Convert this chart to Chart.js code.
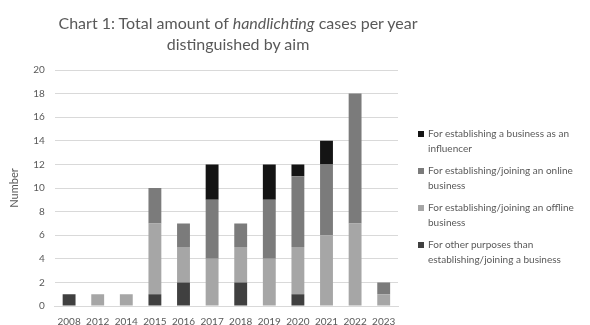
<!DOCTYPE html>
<html>
<head>
<meta charset="utf-8">
<script src="https://cdn.jsdelivr.net/npm/chart.js@4"></script>
<style>
  body { margin: 0; background: #fff; }
  #wrap { position: relative; width: 590px; height: 325px; font-family: Lato, "Open Sans", sans-serif; }
  #title { position: absolute; left: 0; width: 476px; top: 12px; text-align: center; color: #595959; font-size: 16px; line-height: 21px; }
  #legend { position: absolute; left: 418px; top: 126px; width: 172px; color: #595959; font-size: 10px; line-height: 15px; }
  .item { position: relative; padding-left: 10px; margin-bottom: 7px; }
  .item span { position: absolute; left: 0; top: 5px; width: 6px; height: 6px; }
</style>
</head>
<body>
<div id="wrap">
  <canvas id="chart" width="590" height="325"></canvas>
  <div id="title">Chart 1: Total amount of <i>handlichting</i> cases per year<br>distinguished by aim</div>
  <div id="legend"></div>
</div>
<script>
// years on the x axis
var years = ["2008", "2012", "2014", "2015", "2016", "2017", "2018", "2019", "2020", "2021", "2022", "2023"];

// cases per year, one array per aim (stacked bottom to top)
var otherPurposes = [1, 0, 0, 1, 2, 0, 2, 0, 1, 0, 0, 0];
var offlineBusiness = [0, 1, 1, 6, 3, 4, 3, 4, 4, 6, 7, 1];
var onlineBusiness = [0, 0, 0, 3, 2, 5, 2, 5, 6, 6, 11, 1];
var influencer = [0, 0, 0, 0, 0, 3, 0, 3, 1, 2, 0, 0];

var yTicks = [0, 2, 4, 6, 8, 10, 12, 14, 16, 18, 20];

// datasets in legend order (top of stack first)
var series = [
  { label: "For establishing a business as an influencer", data: influencer, color: "#141414" },
  { label: "For establishing/joining an online business", data: onlineBusiness, color: "#7b7b7b" },
  { label: "For establishing/joining an offline business", data: offlineBusiness, color: "#a6a6a6" },
  { label: "For other purposes than establishing/joining a business", data: otherPurposes, color: "#404040" }
];

// build the html legend so labels can wrap like the original
var legend = document.getElementById("legend");
series.forEach(function (s) {
  var div = document.createElement("div");
  div.className = "item";
  div.innerHTML = '<span style="background:' + s.color + '"></span>' + s.label;
  legend.appendChild(div);
});

var ctx = document.getElementById("chart").getContext("2d");
var myChart = new Chart(ctx, {
  type: "bar",
  data: {
    labels: years,
    datasets: series.slice().reverse().map(function (s) {
      return {
        label: s.label,
        data: s.data,
        backgroundColor: s.color,
        barPercentage: 0.5,
        categoryPercentage: 0.9
      };
    })
  },
  options: {
    responsive: false,
    animation: { duration: 0 },
    // negative bottom padding pulls the plot down close to the year labels
    layout: { padding: { top: 70, right: 192, left: 6, bottom: -13 } },
    plugins: {
      legend: { display: false },
      tooltip: { enabled: false }
    },
    scales: {
      x: {
        stacked: true,
        grid: { display: false, drawTicks: false, tickLength: 0 },
        border: { color: "#d9d9d9" },
        ticks: {
          color: "#595959",
          font: { family: "Lato", size: 10 },
          padding: 10,
          maxRotation: 0,
          minRotation: 0,
          autoSkip: false
        }
      },
      y: {
        stacked: true,
        min: 0,
        max: 20,
        afterBuildTicks: function (axis) {
          axis.ticks = yTicks.map(function (v) { return { value: v }; });
        },
        grid: { color: "#d9d9d9", drawTicks: false },
        border: { display: false },
        ticks: { color: "#595959", font: { family: "Lato", size: 10 }, padding: 10 },
        title: { display: true, text: "Number", color: "#595959", font: { family: "Lato", size: 11 }, padding: 2 }
      }
    }
  }
});
</script>
</body>
</html>
